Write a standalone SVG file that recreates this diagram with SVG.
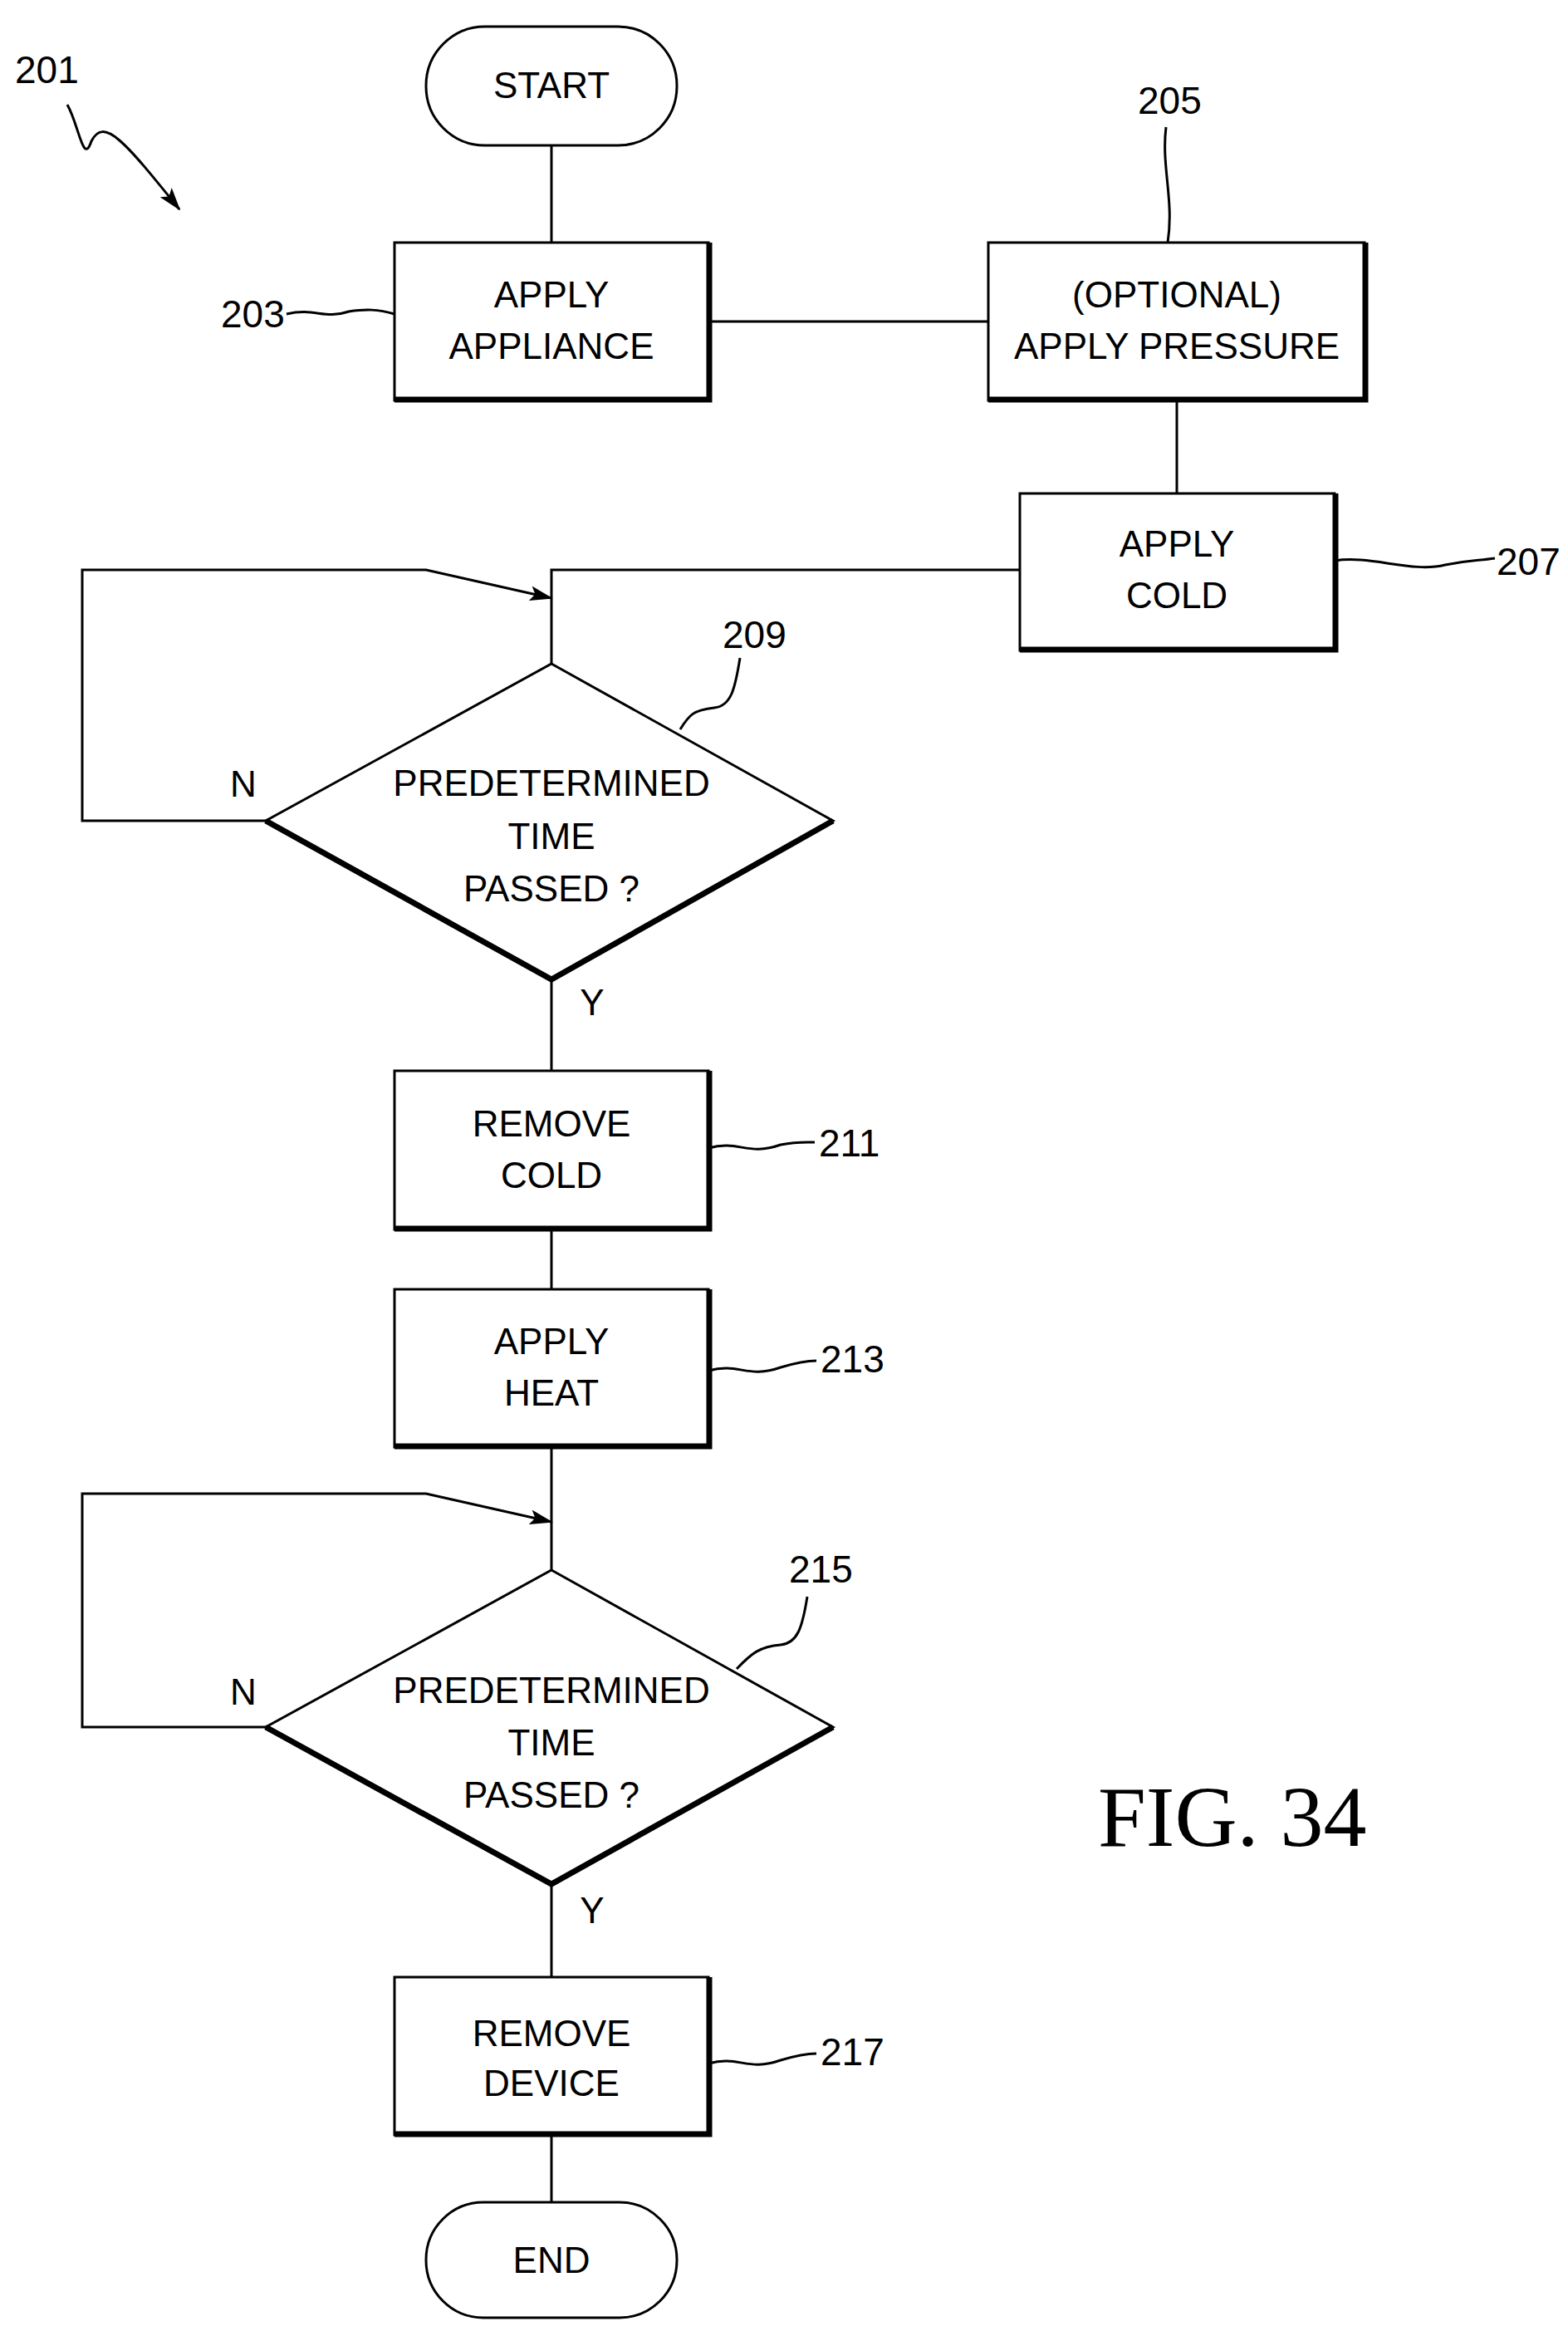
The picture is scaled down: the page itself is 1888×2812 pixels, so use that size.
<svg xmlns="http://www.w3.org/2000/svg" width="1888" height="2812" viewBox="0 0 1888 2812">
<style>
.s{fill:#fff;stroke:#000;stroke-width:3}
.sh{fill:none;stroke:#000;stroke-width:7}
.l{fill:none;stroke:#000;stroke-width:3}
.t{font-family:"Liberation Sans",Arial,sans-serif;font-size:44px;text-anchor:middle;fill:#000}
.r{font-family:"Liberation Sans",Arial,sans-serif;font-size:46px;fill:#000}
</style>
<defs><marker id="a" markerWidth="12" markerHeight="10" refX="11" refY="5" orient="auto" markerUnits="userSpaceOnUse" viewBox="0 0 12 10"><path d="M0,0 L12,5 L0,10 Z" fill="#000" transform="scale(2.2)"/></marker>
<marker id="b" markerWidth="28" markerHeight="18" refX="26" refY="9" orient="auto" markerUnits="userSpaceOnUse"><path d="M0,0 L28,9 L0,18 L6,9 Z" fill="#000"/></marker></defs>
<g id="connectors">
<path class="l" d="M664 175V292M853 387H1190M1417 482V594M1228 686H664V799M664 1179V1289M664 1480V1552M664 1742V1890M664 2268V2380M664 2570V2651"/>
<path class="l" d="M320 988H99V686H513L664 720" marker-end="url(#b)"/>
<path class="l" d="M320 2079H99V1798H513L664 1832" marker-end="url(#b)"/>
<path class="l" d="M81 126C95 150 100 200 110 170C125 140 150 170 216 252" marker-end="url(#b)"/>
<path class="l" d="M345 378C380 370 390 385 420 375C440 372 455 372 475 378"/>
<path class="l" d="M1404 153C1398 200 1414 240 1406 292"/>
<path class="l" d="M1607 675C1650 668 1700 690 1740 680C1770 674 1780 675 1800 672"/>
<path class="l" d="M891 792C885 830 880 850 860 852C835 855 830 860 819 878"/>
<path class="l" d="M853 1382C890 1372 900 1392 940 1378C960 1374 970 1375 981 1375"/>
<path class="l" d="M853 1650C890 1640 900 1660 940 1646C960 1640 970 1638 983 1638"/>
<path class="l" d="M972 1922C966 1960 960 1978 940 1980C915 1982 905 1990 887 2009"/>
<path class="l" d="M853 2484C890 2474 900 2494 940 2480C960 2474 970 2472 983 2472"/>
</g>
<g id="start"><rect class="s" x="513" y="32" width="302" height="143" rx="71"/><text class="t" x="664" y="118">START</text></g>
<g id="n203"><rect class="s" x="475" y="292" width="378" height="190"/><path class="sh" d="M475 481H854V292"/><text class="t" x="664" y="370">APPLY</text><text class="t" x="664" y="432">APPLIANCE</text></g>
<g id="n205"><rect class="s" x="1190" y="292" width="453" height="190"/><path class="sh" d="M1190 481H1644V292"/><text class="t" x="1417" y="370">(OPTIONAL)</text><text class="t" x="1417" y="432">APPLY PRESSURE</text></g>
<g id="n207"><rect class="s" x="1228" y="594" width="379" height="189"/><path class="sh" d="M1228 782H1608V594"/><text class="t" x="1417" y="670">APPLY</text><text class="t" x="1417" y="732">COLD</text></g>
<g id="n209"><path class="s" d="M664 799L1003 988L664 1179L320 988Z"/><path class="sh" d="M320 988L664 1179L1003 988"/><text class="t" x="664" y="958">PREDETERMINED</text><text class="t" x="664" y="1022">TIME</text><text class="t" x="664" y="1085">PASSED ?</text><text class="t" x="293" y="959">N</text><text class="t" x="713" y="1222">Y</text></g>
<g id="n211"><rect class="s" x="475" y="1289" width="378" height="191"/><path class="sh" d="M475 1479H854V1289"/><text class="t" x="664" y="1368">REMOVE</text><text class="t" x="664" y="1430">COLD</text></g>
<g id="n213"><rect class="s" x="475" y="1552" width="378" height="190"/><path class="sh" d="M475 1741H854V1552"/><text class="t" x="664" y="1630">APPLY</text><text class="t" x="664" y="1692">HEAT</text></g>
<g id="n215"><path class="s" d="M664 1890L1003 2079L664 2268L320 2079Z"/><path class="sh" d="M320 2079L664 2268L1003 2079"/><text class="t" x="664" y="2050">PREDETERMINED</text><text class="t" x="664" y="2113">TIME</text><text class="t" x="664" y="2176">PASSED ?</text><text class="t" x="293" y="2052">N</text><text class="t" x="713" y="2315">Y</text></g>
<g id="n217"><rect class="s" x="475" y="2380" width="378" height="190"/><path class="sh" d="M475 2569H854V2380"/><text class="t" x="664" y="2463">REMOVE</text><text class="t" x="664" y="2523">DEVICE</text></g>
<g id="end"><rect class="s" x="513" y="2651" width="302" height="139" rx="69"/><text class="t" x="664" y="2736">END</text></g>
<g id="refs">
<text class="r" x="18" y="100">201</text>
<text class="r" x="266" y="394">203</text>
<text class="r" x="1370" y="137">205</text>
<text class="r" x="1802" y="692">207</text>
<text class="r" x="870" y="780">209</text>
<text class="r" x="986" y="1392">211</text>
<text class="r" x="988" y="1652">213</text>
<text class="r" x="950" y="1905">215</text>
<text class="r" x="988" y="2486">217</text>
<text x="1322" y="2222" style="font-family:'Liberation Serif','Times New Roman',serif;font-size:104px;fill:#000">FIG. 34</text>
</g>
</svg>
